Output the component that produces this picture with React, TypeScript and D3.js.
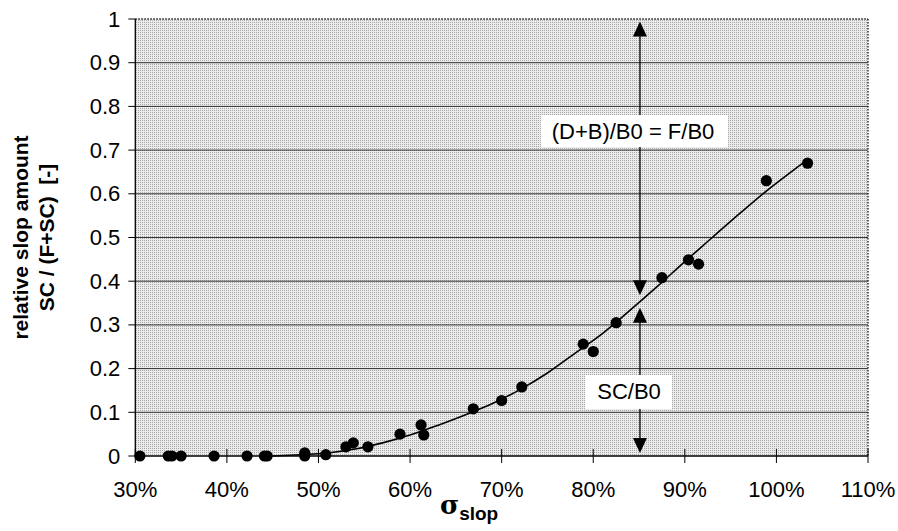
import React from "react";
import * as d3 from "d3";

// observed data points
const xPct = [0.305, 0.336, 0.34, 0.35, 0.386, 0.422, 0.441, 0.444, 0.485, 0.485, 0.508, 0.53, 0.538, 0.554, 0.589, 0.612, 0.615, 0.669, 0.70, 0.722, 0.789, 0.80, 0.825, 0.875, 0.904, 0.915, 0.989, 1.034];
const yVal = [0, 0, 0, 0, 0, 0, 0, 0, 0.007, 0.0, 0.003, 0.021, 0.03, 0.021, 0.05, 0.071, 0.048, 0.108, 0.127, 0.158, 0.256, 0.239, 0.305, 0.408, 0.449, 0.439, 0.630, 0.670];

// fitted trend curve
const curveX = [0.45, 0.48, 0.51, 0.54, 0.57, 0.60, 0.63, 0.66, 0.69, 0.72, 0.75, 0.78, 0.81, 0.84, 0.87, 0.90, 0.93, 0.96, 0.99, 1.035];
const curveY = [0.0, 0.003, 0.007, 0.016, 0.03, 0.048, 0.07, 0.094, 0.12, 0.152, 0.19, 0.235, 0.28, 0.333, 0.388, 0.445, 0.5, 0.555, 0.608, 0.68];

const xTicks = [0.3, 0.4, 0.5, 0.6, 0.7, 0.8, 0.9, 1.0, 1.1];
const yTicks = [0, 0.1, 0.2, 0.3, 0.4, 0.5, 0.6, 0.7, 0.8, 0.9, 1];

// annotation arrows (x position, from, to)
const arrowX = 0.851;
const upperArrow = [0.994, 0.368];
const lowerArrow = [0.339, 0.007];
const upperLabel = "(D+B)/B0 = F/B0";
const lowerLabel = "SC/B0";

const W = 898, H = 531;
const L = 135.3, R = 868, T = 19, B = 456;

export default function App() {
  const x = d3.scaleLinear().domain([0.3, 1.1]).range([L, R]);
  const y = d3.scaleLinear().domain([0, 1]).range([B, T]);
  const line = d3.line<number>().x((_, i) => x(curveX[i])).y((_, i) => y(curveY[i])).curve(d3.curveCatmullRom);
  const fmtY = (v: number) => (v === 0 ? "0" : v === 1 ? "1" : d3.format(".1f")(v));
  const fmtX = d3.format(".0%");
  const font = "Liberation Sans, Arial, sans-serif";
  const ax = x(arrowX);

  const arrowHead = (tipY: number, dir: number) => {
    const h = 15, w = 7;
    return `M${ax},${tipY} L${ax - w},${tipY - dir * h} L${ax + w},${tipY - dir * h} Z`;
  };

  return (
    <svg width={W} height={H} style={{ position: "absolute", left: 0, top: 0, background: "#fff" }} fontFamily={font}>
      <defs>
        <pattern id="stip" width="2" height="2" patternUnits="userSpaceOnUse">
          <rect width="2" height="2" fill="#ebebeb" />
          <rect width="1" height="1" fill="#a8a8a8" />
        </pattern>
      </defs>
      <rect x={L} y={T} width={R - L} height={B - T} fill="url(#stip)" />
      {yTicks.filter((t) => t > 0 && t < 1).map((t) => (
        <line key={t} x1={L} x2={R} y1={y(t)} y2={y(t)} stroke="#333" strokeWidth={1} />
      ))}
      <line x1={L} x2={R} y1={T} y2={T} stroke="#111" strokeWidth={1.3} strokeDasharray="1.5,1.5" />
      <line x1={R} x2={R} y1={T} y2={B} stroke="#111" strokeWidth={1.3} strokeDasharray="1.5,1.5" />
      <line x1={L} x2={L} y1={T} y2={B} stroke="#000" strokeWidth={1.3} />
      <line x1={L} x2={R} y1={B} y2={B} stroke="#000" strokeWidth={1.3} />
      {yTicks.map((t) => (
        <g key={t}>
          <line x1={L - 7} x2={L} y1={y(t)} y2={y(t)} stroke="#000" />
          <text x={L - 15} y={y(t)} textAnchor="end" dominantBaseline="central" fontSize={22}>{fmtY(t)}</text>
        </g>
      ))}
      {xTicks.map((t) => (
        <g key={t}>
          <line x1={x(t)} x2={x(t)} y1={B - 7} y2={B + 7} stroke="#000" />
          <text x={x(t)} y={B + 33} textAnchor="middle" dominantBaseline="central" fontSize={22}>{fmtX(t)}</text>
        </g>
      ))}
      <line x1={ax} x2={ax} y1={y(upperArrow[0]) + 10} y2={y(upperArrow[1]) - 10} stroke="#000" strokeWidth={1.3} />
      <path d={arrowHead(y(upperArrow[0]), -1)} fill="#000" />
      <path d={arrowHead(y(upperArrow[1]), 1)} fill="#000" />
      <line x1={ax} x2={ax} y1={y(lowerArrow[0]) + 10} y2={y(lowerArrow[1]) - 10} stroke="#000" strokeWidth={1.3} />
      <path d={arrowHead(y(lowerArrow[0]), -1)} fill="#000" />
      <path d={arrowHead(y(lowerArrow[1]), 1)} fill="#000" />
      <rect x={541} y={115} width={187} height={32} fill="#fff" />
      <text x={633} y={131} textAnchor="middle" dominantBaseline="central" fontSize={22}>{upperLabel}</text>
      <rect x={585} y={375} width={87} height={34} fill="#fff" />
      <text x={629} y={391} textAnchor="middle" dominantBaseline="central" fontSize={22}>{lowerLabel}</text>
      <path d={line(curveX) || ""} fill="none" stroke="#000" strokeWidth={1.6} />
      {xPct.map((v, i) => (
        <circle key={i} cx={x(v)} cy={y(yVal[i])} r={5.6} fill="#000" />
      ))}
      <text x={440} y={514} fontSize={26} fontWeight="bold" fontFamily="DejaVu Serif, serif">σ<tspan fontSize={19} fontFamily={font} dy={6}>slop</tspan></text>
      <g transform={`translate(28, ${(T + B) / 2}) rotate(-90)`}>
        <text x={0} y={0} textAnchor="middle" fontSize={21} fontWeight="bold">relative slop amount</text>
        <text x={0} y={26} textAnchor="middle" fontSize={21} fontWeight="bold" style={{ whiteSpace: "pre" }}>{"SC / (F+SC)  [-]"}</text>
      </g>
    </svg>
  );
}
